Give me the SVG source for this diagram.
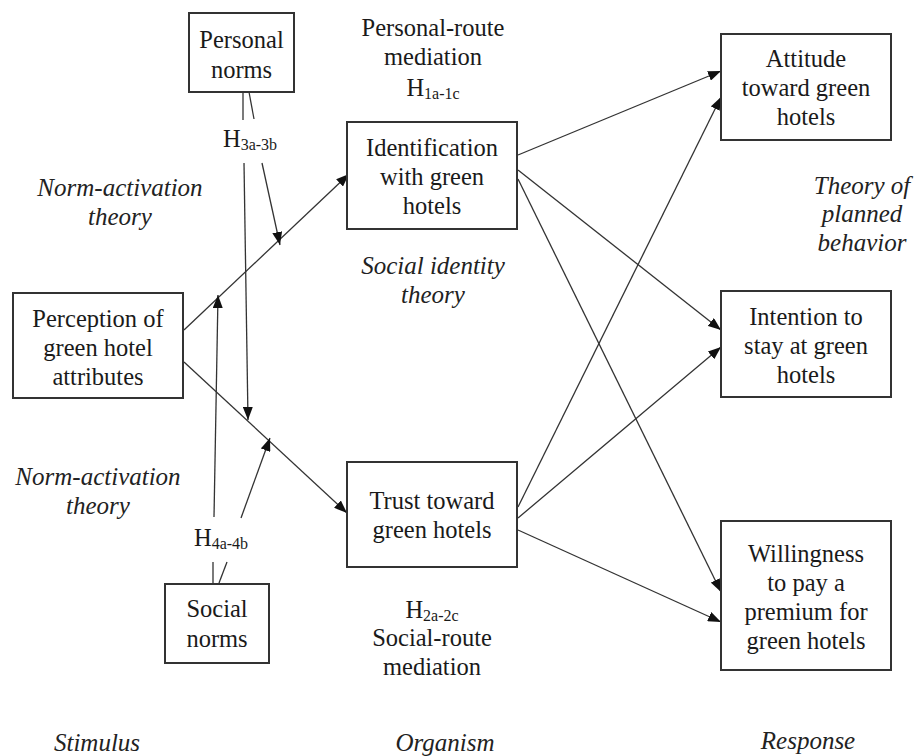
<svg xmlns="http://www.w3.org/2000/svg" width="919" height="756" viewBox="0 0 919 756">
<style>
.box{fill:#fff;stroke:#333;stroke-width:2}
.t{font-family:"Liberation Serif","Times New Roman",serif;font-size:24.5px;fill:#1a1a1a;text-anchor:middle}
.i{font-family:"Liberation Serif","Times New Roman",serif;font-size:25px;font-style:italic;fill:#222;text-anchor:middle}
.sub{font-size:16px}
.c{stroke:#333;stroke-width:1.3;fill:none}
.a{marker-end:url(#arr)}
</style>
<defs>
<marker id="arr" markerUnits="userSpaceOnUse" markerWidth="13" markerHeight="10" refX="13" refY="5" orient="auto">
<path d="M0,0 L13,5 L0,10 z" fill="#111"/>
</marker>
</defs>
<rect width="919" height="756" fill="#fff"/>
<g id="connectors">
<line class="c a" x1="184" y1="330" x2="349" y2="174"/>
<line class="c a" x1="184" y1="362" x2="347" y2="513"/>
<line class="c" x1="243" y1="92" x2="243" y2="120"/>
<line class="c a" x1="244" y1="163" x2="248" y2="420"/>
<line class="c" x1="249" y1="92" x2="254" y2="119"/>
<line class="c a" x1="262" y1="163" x2="280" y2="245"/>
<line class="c" x1="213" y1="583" x2="213" y2="562"/>
<line class="c a" x1="214" y1="517" x2="218" y2="295"/>
<line class="c" x1="219" y1="583" x2="227" y2="562"/>
<line class="c a" x1="241" y1="518" x2="270" y2="438"/>
<line class="c a" x1="518" y1="155" x2="721" y2="71"/>
<line class="c a" x1="518" y1="170" x2="721" y2="330"/>
<line class="c a" x1="518" y1="179" x2="721" y2="592"/>
<line class="c a" x1="518" y1="507" x2="721" y2="97"/>
<line class="c a" x1="518" y1="518" x2="721" y2="347"/>
<line class="c a" x1="518" y1="530" x2="721" y2="622"/>
</g>
<g id="personal-norms">
<rect class="box" x="189" y="13" width="105" height="79"/>
<text class="t" x="241.5" y="48">Personal</text>
<text class="t" x="241.5" y="78">norms</text>
</g>
<g id="perception">
<rect class="box" x="13" y="293" width="170" height="105"/>
<text class="t" x="98" y="327">Perception of</text>
<text class="t" x="98" y="356">green hotel</text>
<text class="t" x="98" y="385">attributes</text>
</g>
<g id="identification">
<rect class="box" x="347" y="122" width="170" height="107"/>
<text class="t" x="432" y="156">Identification</text>
<text class="t" x="432" y="185">with green</text>
<text class="t" x="432" y="214">hotels</text>
</g>
<g id="trust">
<rect class="box" x="347" y="462" width="170" height="105"/>
<text class="t" x="432" y="509">Trust toward</text>
<text class="t" x="432" y="538">green hotels</text>
</g>
<g id="social-norms">
<rect class="box" x="165" y="584" width="104" height="79"/>
<text class="t" x="217" y="617">Social</text>
<text class="t" x="217" y="647">norms</text>
</g>
<g id="attitude">
<rect class="box" x="721" y="34" width="170" height="106"/>
<text class="t" x="806" y="67">Attitude</text>
<text class="t" x="806" y="96">toward green</text>
<text class="t" x="806" y="125">hotels</text>
</g>
<g id="intention">
<rect class="box" x="721" y="291" width="170" height="106"/>
<text class="t" x="806" y="325">Intention to</text>
<text class="t" x="806" y="354">stay at green</text>
<text class="t" x="806" y="383">hotels</text>
</g>
<g id="willingness">
<rect class="box" x="721" y="521" width="170" height="149"/>
<text class="t" x="806" y="562">Willingness</text>
<text class="t" x="806" y="591">to pay a</text>
<text class="t" x="806" y="620">premium for</text>
<text class="t" x="806" y="649">green hotels</text>
</g>
<g id="labels">
<text class="t" x="433" y="36">Personal-route</text>
<text class="t" x="433" y="65">mediation</text>
<text class="t" x="433" y="96">H<tspan class="sub" dy="3">1a-1c</tspan></text>
<text class="t" x="250" y="147">H<tspan class="sub" dy="3">3a-3b</tspan></text>
<text class="t" x="221" y="546">H<tspan class="sub" dy="3">4a-4b</tspan></text>
<text class="t" x="432" y="618">H<tspan class="sub" dy="3">2a-2c</tspan></text>
<text class="t" x="432" y="646">Social-route</text>
<text class="t" x="432" y="675">mediation</text>
<text class="i" x="120" y="196">Norm-activation</text>
<text class="i" x="120" y="225">theory</text>
<text class="i" x="98" y="485">Norm-activation</text>
<text class="i" x="98" y="514">theory</text>
<text class="i" x="433" y="274">Social identity</text>
<text class="i" x="433" y="303">theory</text>
<text class="i" x="862" y="194">Theory of</text>
<text class="i" x="862" y="222">planned</text>
<text class="i" x="862" y="251">behavior</text>
<text class="i" x="97" y="751">Stimulus</text>
<text class="i" x="445" y="751">Organism</text>
<text class="i" x="808" y="749">Response</text>
</g>
</svg>
